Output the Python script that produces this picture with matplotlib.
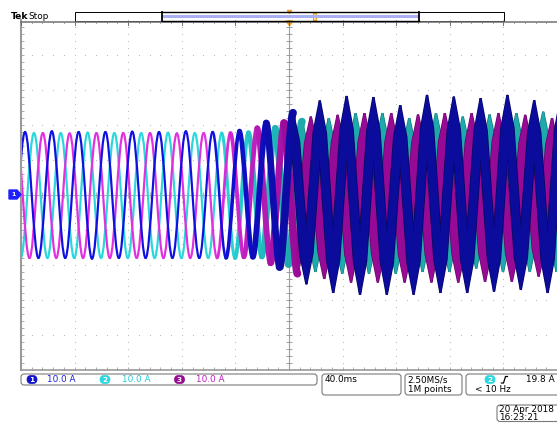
import numpy as np
import matplotlib.pyplot as plt
from matplotlib.path import Path
from matplotlib.patches import PathPatch, FancyBboxPatch, Rectangle, Polygon
from matplotlib.colors import to_rgb

# scope settings (10 A/div, 40 ms/div)
time_div_ms = 40
amp_div_a = 10

# waveform extremes: time (ms, 0 = trigger) and value (A)
ch1_t = [-207, -197, -187, -177, -167, -157, -147, -137, -127, -117, -107,
         -97, -87, -77, -67, -57, -47, -37, -27, -17, -7, 3, 13, 23, 33, 43,
         53, 63, 73, 83, 93, 103, 113, 123, 133, 143, 153, 163, 173, 183, 193, 203]
ch1_v = [-18, 18, -18, 18.2, -18, 18, -18.2, 18, -18, 18.1, -18,
         18, -18, 18.2, -18, 18, -18, 18.3, -17.7, 20.6, -20.6, 23.5, -25.5, 27, -28, 28.3,
         -28.5, 28, -28.5, 25.7, -28.5, 28.6, -28, 28.1, -28, 27.7, -27.6, 28.6, -27.1, 27.1, -28, 28]

ch2_t = [-210.3, -200.3, -190.3, -180.3, -170.3, -160.3, -150.3, -140.3, -130.3,
         -120.3, -110.3, -100.3, -90.3, -80.3, -70.3, -60.3, -50.3, -40.3, -30.3,
         -20.3, -10.3, -0.3, 9.7, 19.7, 29.7, 39.7, 49.7, 59.7, 69.7, 79.7, 89.7,
         99.7, 109.7, 119.7, 129.7, 139.7, 149.7, 159.7, 169.7, 179.7, 189.7, 199.7, 209.7]
ch2_v = [17.7, -18, 17.7, -18, 17.7, -18, 17.8, -18, 17.7,
         -18, 17.7, -18, 17.8, -18, 17.7, -18, 17.7, -18, 17.8,
         -17.6, 19.1, -19.8, 21, -22, 22, -22.5, 23.4, -22.5, 23.4, -22.5, 22,
         -22, 23.4, -22, 22.4, -21, 23, -22, 23.4, -22, 23.8, -22, 23]

ch3_t = [-203.7, -193.7, -183.7, -173.7, -163.7, -153.7, -143.7, -133.7, -123.7,
         -113.7, -103.7, -93.7, -83.7, -73.7, -63.7, -53.7, -43.7, -33.7, -23.7,
         -13.7, -3.7, 6.3, 16.3, 26.3, 36.3, 46.3, 56.3, 66.3, 76.3, 86.3, 96.3,
         106.3, 116.3, 126.3, 136.3, 146.3, 156.3, 166.3, 176.3, 186.3, 196.3, 206.3]
ch3_v = [17.7, -18, 17.7, -18, 17.6, -18, 17.7, -18, 17.7,
         -18, 17.7, -18, 17.6, -18, 17.7, -18, 17.7, -17.7, 19.1,
         -19.4, 20.6, -22.5, 22.4, -24, 22.9, -25, 23.4, -25, 23.4, -25, 23,
         -25, 23.4, -25, 23.4, -24.8, 23.4, -24.8, 22.9, -23.3, 22, -24]

# status bar texts
ch_labels = ["1", "2", "3"]
ch_scale_txt = ["10.0 A", "10.0 A", "10.0 A"]
timebase_txt = "40.0ms"
rate_txt = ["2.50MS/s", "1M points"]
trig_txt = ["19.8 A", "< 10 Hz"]
date_txt = ["20 Apr 2018", "16:23:21"]

W, H = 557, 424
fig = plt.figure(figsize=(W / 100, H / 100), dpi=100)
fig.patch.set_facecolor("white")

gx0, gx1, gy0, gy1 = 21, 557, 20, 370
ax = fig.add_axes([gx0 / W, 1 - gy1 / H, (gx1 - gx0) / W, (gy1 - gy0) / H])
ax.set_xlim(-5 * time_div_ms, 5 * time_div_ms)
ax.set_ylim(-5 * amp_div_a, 5 * amp_div_a)
ax.axis("off")
sx = (gx1 - gx0) / (10 * time_div_ms)   # px per ms
sy = (gy1 - gy0) / (10 * amp_div_a)     # px per A

# graticule: dotted division lines
grid_c = "#bdbdbd"
for xv in np.arange(-160, 161, 40):
    if xv == 0:
        continue
    yy = np.arange(-50, 50.1, 2)
    ax.plot([xv] * len(yy), yy, ls="none", marker="s", ms=0.75, mew=0, color=grid_c)
for yv in np.arange(-40, 41, 10):
    if yv == 0:
        continue
    xx = np.arange(-200, 200.1, 8)
    ax.plot(xx, [yv] * len(xx), ls="none", marker="s", ms=0.75, mew=0, color=grid_c)

# center crosshair with ticks
ax.axvline(0, color="#a0a0a0", lw=0.8)
ax.axhline(0, color="#b4b4b4", lw=0.7)
yy = np.arange(-48, 49, 2)
ax.plot([0] * len(yy), yy, ls="none", marker="_", ms=4, mew=0.6, color="#909090")
xx = np.arange(-192, 193, 8)
ax.plot(xx, [0] * len(xx), ls="none", marker="|", ms=4, mew=0.6, color="#a8a8a8")
# border ticks
ax.plot([-199.5] * len(yy), yy, ls="none", marker="_", ms=3, mew=0.6, color="#a0a0a0")
ax.plot(xx, [-49.6] * len(xx), ls="none", marker="|", ms=3, mew=0.6, color="#a0a0a0")


def mix(c1, c2, f):
    a, b = np.array(to_rgb(c1)), np.array(to_rgb(c2))
    return tuple(a + (b - a) * f)


def band(t0, v0, t1, v1, w, tip, color, z):
    # tapered stroke between two extremes, built in pixel space
    p0 = np.array([t0 * sx, v0 * sy])
    p1 = np.array([t1 * sx, v1 * sy])
    d = p1 - p0
    u = d / np.hypot(*d)
    n = np.array([-u[1], u[0]])
    k = 0.17
    pts = [p0 + n * tip / 2, p0 + k * d + n * w / 2, p1 - k * d + n * w / 2, p1 + n * tip / 2,
           p1 - n * tip / 2, p1 - k * d - n * w / 2, p0 + k * d - n * w / 2, p0 - n * tip / 2]
    pts = [(p[0] / sx, p[1] / sy) for p in pts]
    ax.add_patch(Polygon(pts, closed=True, fc=color, ec="none", lw=0, zorder=z))


def draw_channel(ts, vs, bright, dark, edge, w_full, z):
    for i in range(len(ts) - 1):
        t0, t1, v0, v1 = ts[i], ts[i + 1], vs[i], vs[i + 1]
        mid = 0.5 * (t0 + t1)
        f = float(np.clip((mid + 55) / 60, 0, 1))
        if f < 1:
            c = 0.3634 - 0.15 * f
            dt = t1 - t0
            verts = [(t0, v0), (t0 + c * dt, v0), (t1 - c * dt, v1), (t1, v1)]
            codes = [Path.MOVETO, Path.CURVE4, Path.CURVE4, Path.CURVE4]
            lw_px = 2.2 + f * (w_full - 2.2)
            ax.add_patch(PathPatch(Path(verts, codes), fill=False,
                                   edgecolor=mix(bright, dark, f), lw=lw_px * 0.72,
                                   capstyle="round", joinstyle="round", zorder=z + 0.5))
        else:
            band(t0, v0, t1, v1, w_full + 1.4, 2.2, edge, z)
            band(t0, v0, t1, v1, w_full, 1.0, dark, z + 0.5)


draw_channel(ch2_t, ch2_v, "#2ad8dc", "#1eaaac", "#0f7576", 7.5, 2)
draw_channel(ch3_t, ch3_v, "#e030e0", "#960a96", "#620662", 8.0, 3)
draw_channel(ch1_t, ch1_v, "#1010e0", "#0b0b9c", "#06065e", 8.5, 4)

# overlay in pixel coordinates for the scope frame and readouts
ov = fig.add_axes([0, 0, 1, 1], zorder=5)
ov.set_xlim(0, W)
ov.set_ylim(H, 0)
ov.axis("off")
ov.patch.set_visible(False)

# borders
ov.plot([gx0, gx0], [gy0, gy1], color="#9a9a9a", lw=1.5)
ov.plot([gx0, gx1], [gy1, gy1], color="#9a9a9a", lw=1.2)
ov.plot([gx0, gx1], [21.5, 21.5], color="#707070", lw=1.1)
div_px = (gx1 - gx0) / 10
for k in range(11):
    x = gx0 + k * div_px
    ov.plot([x, x], [21.5, 24.5], color="#707070", lw=0.7)
    if k < 10:
        for m in range(1, 5):
            xm = x + m * div_px / 5
            ov.plot([xm, xm], [21.5, 23.3], color="#8a8a8a", lw=0.6)

# top bar
ov.text(10.5, 16.5, "Tek", fontsize=6.6, fontweight="bold", va="center", ha="left")
ov.text(28, 16.5, "Stop", fontsize=6.4, va="center", ha="left")
ov.add_patch(Rectangle((75.3, 12), 428.7, 8.6, fill=False, ec="black", lw=0.7))
ov.plot([162, 418.5], [16.3, 16.3], color="#aab0f2", lw=2.2, solid_capstyle="butt")
for x in (161.6, 418.5):
    ov.plot([x, x], [12, 20.6], color="black", lw=1.3)
ov.plot([161.6, 418.5], [12, 12], color="black", lw=1.0)
ov.plot([161.6, 418.5], [20.6, 20.6], color="black", lw=1.0)
ov.add_patch(Polygon([(287.3, 10.5), (291.7, 10.5), (289.5, 13.5)], color="#f0a020"))
ov.add_patch(Polygon([(286, 21), (293, 21), (289.5, 25.5)], color="#f0a020"))
ov.add_patch(Rectangle((313.3, 13.3), 3, 6.5, fc="#ffe6b0", ec="#f0a020", lw=0.8))

# channel 1 ground marker
ov.add_patch(Polygon([(9, 190), (17, 190), (21, 194.5), (17, 199), (9, 199)],
                     color="#2020ff", zorder=6))
ov.text(14, 194.6, ch_labels[0], fontsize=4.5, color="white", ha="center",
        va="center", fontweight="bold", zorder=7)


# status bar
def box(x, y, w, h):
    ov.add_patch(FancyBboxPatch((x, y), w, h, boxstyle="round,pad=0,rounding_size=3",
                                fc="white", ec="#7a7a7a", lw=0.8))


def pill(xc, yc, txt, color):
    ov.add_patch(FancyBboxPatch((xc - 5, yc - 4), 10, 8,
                                boxstyle="round,pad=0,rounding_size=4",
                                fc=color, ec=color, lw=0.5))
    ov.text(xc, yc + 0.3, txt, fontsize=5.3, color="white", ha="center",
            va="center", fontweight="bold")


box(21, 374, 296, 11)
pill_cols = ["#1010d0", "#2cd6df", "#960a96"]
txt_cols = ["#2020e0", "#22ccd6", "#c020c0"]
for xc, xt, lab, st, pc, tc in zip([32, 105, 179.5], [47, 122, 196], ch_labels,
                                   ch_scale_txt, pill_cols, txt_cols):
    pill(xc, 379.5, lab, pc)
    ov.text(xt, 379.8, st, fontsize=6.4, color=tc, va="center", ha="left")

box(322, 374, 79, 21)
ov.text(325, 379.8, timebase_txt, fontsize=6.4, va="center", ha="left")

box(405, 374, 57, 21)
ov.text(407.5, 379.8, rate_txt[0], fontsize=6.4, va="center", ha="left")
ov.text(407.5, 389.3, rate_txt[1], fontsize=6.4, va="center", ha="left")

box(466, 374, 100, 21)
pill(490, 379.5, ch_labels[1], "#2cd6df")
ov.plot([501.5, 503.5, 505.5, 507.5], [383, 383, 376.5, 376.5], color="black", lw=0.9)
ov.text(555, 379.8, trig_txt[0], fontsize=6.4, va="center", ha="right")
ov.text(475, 389.3, trig_txt[1], fontsize=6.4, va="center", ha="left")

box(497, 405, 70, 16.5)
ov.text(499, 409.5, date_txt[0], fontsize=6.4, va="center", ha="left")
ov.text(499, 417.5, date_txt[1], fontsize=6.4, va="center", ha="left")

plt.savefig("out.png", dpi=100)
